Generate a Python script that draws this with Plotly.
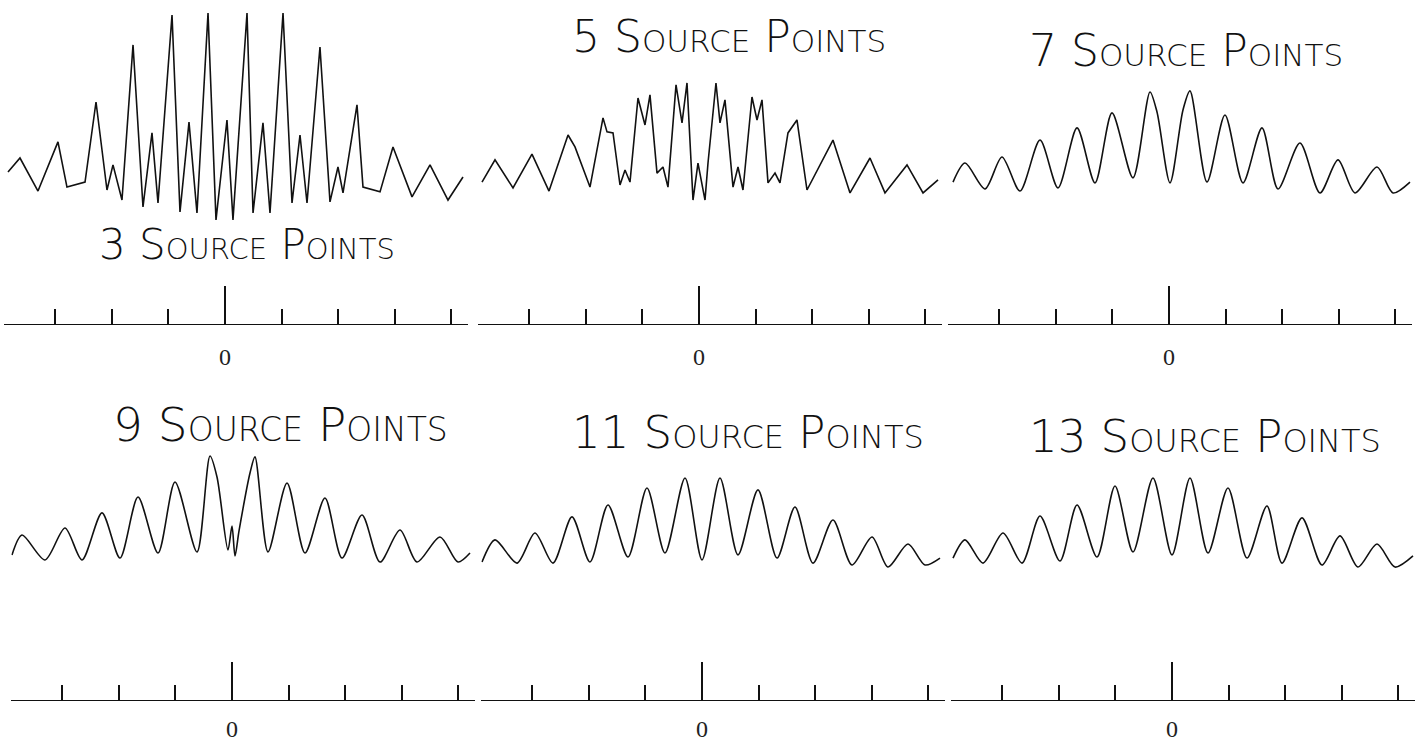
import plotly.graph_objects as go

# ---------------- data ----------------
# x: position in tick units (0 = centre tick), y: relative intensity
p3_x = [-3.834, -3.622, -3.304, -2.951, -2.792, -2.562, -2.473, -2.279, -2.085, -1.979, -1.820,
        -1.625, -1.449, -1.290, -1.184, -0.936, -0.795, -0.636, -0.495, -0.300, -0.159, 0.035,
        0.141, 0.389, 0.495, 0.671, 0.795, 1.025, 1.184, 1.325, 1.449, 1.678, 1.855, 1.996,
        2.085, 2.332, 2.438, 2.739, 2.968, 3.304, 3.622, 3.940, 4.205]
p3_y = [0.239, 0.306, 0.148, 0.383, 0.167, 0.187, 0.191, 0.574, 0.153, 0.273, 0.105,
        0.847, 0.072, 0.426, 0.091, 0.990, 0.048, 0.478, 0.043, 1.000, 0.010, 0.488,
        0.010, 1.000, 0.043, 0.474, 0.043, 1.000, 0.091, 0.416, 0.091, 0.837, 0.096, 0.263,
        0.139, 0.560, 0.167, 0.144, 0.359, 0.120, 0.273, 0.105, 0.215]

p5_x = [-3.834, -3.604, -3.286, -2.951, -2.650, -2.314, -2.191, -1.926, -1.696, -1.625, -1.519,
        -1.396, -1.307, -1.219, -1.078, -0.954, -0.866, -0.742, -0.636, -0.548, -0.406, -0.300,
        -0.212, -0.106, -0.018, 0.106, 0.159, 0.300, 0.371, 0.459, 0.601, 0.689, 0.777, 0.936,
        1.025, 1.113, 1.219, 1.343, 1.431, 1.572, 1.731, 1.908, 2.367, 2.668, 3.021, 3.286,
        3.675, 3.958, 4.223]
p5_y = [0.191, 0.297, 0.163, 0.325, 0.148, 0.416, 0.359, 0.167, 0.498, 0.431, 0.426,
        0.177, 0.249, 0.191, 0.593, 0.464, 0.608, 0.234, 0.263, 0.167, 0.656, 0.474,
        0.665, 0.105, 0.282, 0.105, 0.282, 0.665, 0.474, 0.584, 0.167, 0.263, 0.153, 0.598,
        0.488, 0.584, 0.187, 0.234, 0.187, 0.426, 0.488, 0.153, 0.392, 0.139, 0.306, 0.139,
        0.273, 0.139, 0.201]

p7_x = [-3.816, -3.604, -3.251, -2.951, -2.633, -2.279, -1.961, -1.625, -1.307, -1.007, -0.636,
        -0.336, -0.212, 0.018, 0.247, 0.371, 0.671, 0.989, 1.307, 1.643, 1.926, 2.314, 2.668,
        2.986, 3.286, 3.675, 3.958, 4.258]
p7_y = [0.191, 0.282, 0.158, 0.311, 0.148, 0.392, 0.163, 0.450, 0.187, 0.522, 0.211,
        0.622, 0.526, 0.187, 0.536, 0.627, 0.191, 0.512, 0.187, 0.450, 0.158, 0.378, 0.139,
        0.297, 0.139, 0.263, 0.139, 0.191]

p9_x = [-3.887, -3.710, -3.304, -2.951, -2.650, -2.297, -1.979, -1.661, -1.307, -1.007, -0.618,
        -0.389, -0.265, -0.071, 0.000, 0.053, 0.124, 0.318, 0.406, 0.636, 0.972, 1.290, 1.643,
        1.943, 2.297, 2.615, 2.968, 3.269, 3.675, 3.993, 4.205]
p9_y = [0.206, 0.301, 0.182, 0.335, 0.182, 0.407, 0.191, 0.483, 0.215, 0.555, 0.220,
        0.679, 0.579, 0.230, 0.344, 0.201, 0.321, 0.598, 0.675, 0.220, 0.550, 0.215, 0.478,
        0.191, 0.397, 0.172, 0.325, 0.172, 0.292, 0.172, 0.215]

p11_x = [-3.887, -3.657, -3.269, -2.951, -2.633, -2.297, -1.979, -1.661, -1.307, -0.972, -0.654,
         -0.300, 0.000, 0.318, 0.636, 0.989, 1.325, 1.643, 1.961, 2.314, 2.650, 3.004, 3.286,
         3.640, 3.940, 4.205]
p11_y = [0.172, 0.278, 0.167, 0.311, 0.167, 0.388, 0.172, 0.445, 0.196, 0.526, 0.215,
         0.574, 0.182, 0.574, 0.206, 0.517, 0.191, 0.435, 0.167, 0.373, 0.158, 0.292, 0.148,
         0.258, 0.158, 0.191]

p13_x = [-3.869, -3.657, -3.339, -2.986, -2.650, -2.332, -1.979, -1.678, -1.325, -1.007, -0.689,
         -0.336, 0.000, 0.318, 0.636, 0.989, 1.325, 1.678, 1.943, 2.297, 2.650, 2.968, 3.286,
         3.622, 3.940, 4.258]
p13_y = [0.191, 0.278, 0.167, 0.311, 0.167, 0.392, 0.177, 0.445, 0.196, 0.536, 0.220,
         0.574, 0.206, 0.574, 0.215, 0.526, 0.191, 0.440, 0.167, 0.383, 0.158, 0.297, 0.148,
         0.258, 0.148, 0.201]

titles = ["3 Source Points", "5 Source Points", "7 Source Points",
          "9 Source Points", "11 Source Points", "13 Source Points"]
major_tick = [0]
major_tick_label = ["0"]
minor_ticks = [-3, -2, -1, 1, 2, 3, 4]

series = [(p3_x, p3_y), (p5_x, p5_y), (p7_x, p7_y),
          (p9_x, p9_y), (p11_x, p11_y), (p13_x, p13_y)]

# ---------------- layout ----------------
W, H = 1424, 745
XR = [-3.9, 4.3]
YR = [-0.488, 1.038]
zero_px = [225, 699, 1169, 232, 702, 1172]        # pixel of centre tick
unit_px = 56.6
row_top = [5, 5, 5, 381, 381, 381]
row_bot = [324, 324, 324, 700, 700, 700]
label_standoff = [11, 11, 11, 7, 7, 7]
shapes_line = ["linear", "linear", "spline", "spline", "spline", "spline"]
title_pos = [(247, 244, 42), (729, 36, 44), (1186, 50, 44),
             (280, 425, 47), (748, 432, 45), (1205, 436, 45)]

fig = go.Figure()
layout = dict(width=W, height=H, margin=dict(l=0, r=0, t=0, b=0),
              paper_bgcolor="white", plot_bgcolor="white", showlegend=False,
              annotations=[])

for i, (xs, ys) in enumerate(series):
    n = i + 1
    xa = "x" if n == 1 else f"x{n}"
    ya = "y" if n == 1 else f"y{n}"
    fig.add_trace(go.Scatter(x=xs, y=ys, xaxis=xa, yaxis=ya, mode="lines",
                             line=dict(color="#111", width=1.6, shape=shapes_line[i],
                                       smoothing=0.8),
                             hoverinfo="skip", cliponaxis=False))
    left = zero_px[i] + XR[0] * unit_px
    right = zero_px[i] + XR[1] * unit_px
    layout[f"xaxis{'' if n == 1 else n}"] = dict(
        domain=[left / W, right / W], range=XR, anchor=ya,
        showline=True, linecolor="#111", linewidth=1.2,
        showgrid=False, zeroline=False,
        ticks="inside", tickvals=major_tick, ticktext=major_tick_label,
        ticklen=38, tickwidth=1.6, tickcolor="#111",
        minor=dict(tickvals=minor_ticks, ticks="inside", ticklen=15,
                   tickwidth=1.6, tickcolor="#111", showgrid=False),
        tickfont=dict(family="Liberation Serif", size=24, color="#222"),
        ticklabelstandoff=label_standoff[i], fixedrange=True)
    layout[f"yaxis{'' if n == 1 else n}"] = dict(
        domain=[1 - row_bot[i] / H, 1 - row_top[i] / H], range=YR, anchor=xa,
        visible=False, fixedrange=True)
    tx, ty, fs = title_pos[i]
    layout["annotations"].append(dict(
        text=titles[i], xref="paper", yref="paper", x=tx / W, y=1 - ty / H,
        xanchor="center", yanchor="middle", showarrow=False,
        font=dict(family="DejaVu Sans", size=fs, color="#111", variant="small-caps",
                  weight=300)))

fig.update_layout(**layout)
fig.write_html("out.html", config={"displayModeBar": False},
               post_script="document.body.style.margin='0px';document.body.style.overflow='hidden';")
